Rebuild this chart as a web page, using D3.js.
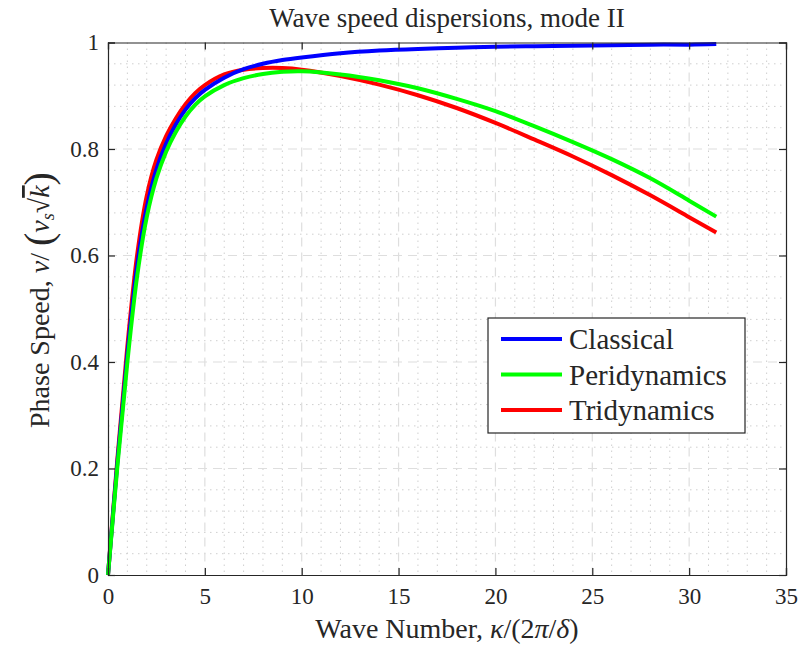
<!DOCTYPE html>
<meta charset="utf-8">
<style>
    body { margin: 0; background: #fff; }
    text { font-family: "Liberation Serif", "DejaVu Serif", serif; fill: #262626; }
    .tick text { font-size: 23px; }
    .grid-major line { stroke: #dedede; stroke-width: 1.2; stroke-dasharray: 9,6; }
    .grid-minor line { stroke: #cfcfcf; stroke-width: 1; stroke-dasharray: 1.5,4.5; }
</style>
<svg width="802" height="651"></svg>
<script src="https://d3js.org/d3.v7.min.js"></script>
<script>
    // wave number (kappa / (2 pi / delta))
    var waveNumber = [0, 0.5, 1, 1.5, 2, 2.5, 3, 3.5, 4, 4.5, 5, 6, 7, 8, 9, 10, 12, 14, 16, 18, 20, 22, 24, 26, 28, 30, 31.4];
    var classical = [0, 0.218, 0.415, 0.58, 0.69, 0.762, 0.81, 0.846, 0.874, 0.895, 0.911, 0.934, 0.950, 0.960, 0.967, 0.972,
        0.980, 0.985, 0.988, 0.990, 0.992, 0.993, 0.994, 0.995, 0.996, 0.996, 0.997];
    var peridynamics = [0, 0.21, 0.40, 0.56, 0.672, 0.745, 0.795, 0.832, 0.861, 0.883, 0.899, 0.920, 0.933, 0.941, 0.945, 0.946,
        0.940, 0.929, 0.914, 0.894, 0.871, 0.843, 0.813, 0.781, 0.745, 0.703, 0.673];
    var tridynamics = [0, 0.225, 0.43, 0.60, 0.712, 0.78, 0.824, 0.857, 0.884, 0.905, 0.920, 0.940, 0.949, 0.952, 0.952, 0.949,
        0.937, 0.921, 0.901, 0.877, 0.849, 0.818, 0.786, 0.751, 0.713, 0.672, 0.643];
    var seriesNames = ["Classical", "Peridynamics", "Tridynamics"];
    var seriesColors = ["#0000ff", "#00ff00", "#ff0000"];
    var xTicks = [0, 5, 10, 15, 20, 25, 30, 35];
    var yTicks = [0, 0.2, 0.4, 0.6, 0.8, 1];

    var svg = d3.select("svg"),
        pLeft = 108, pTop = 42.5, pRight = 786, pBottom = 575;

    var x = d3.scaleLinear().domain([0, 35]).range([pLeft, pRight]);
    var y = d3.scaleLinear().domain([0, 1]).range([pBottom, pTop]);

    // minor grid
    var gMinor = svg.append("g").attr("class", "grid-minor");
    gMinor.selectAll(".vx").data(d3.range(1, 35).filter(function(d) { return d % 5 !== 0; }))
        .enter().append("line")
        .attr("x1", function(d) { return x(d); }).attr("x2", function(d) { return x(d); })
        .attr("y1", pTop).attr("y2", pBottom);
    gMinor.selectAll(".hy").data(d3.range(1, 25).filter(function(d) { return d % 5 !== 0; }).map(function(d) { return d * 0.04; }))
        .enter().append("line")
        .attr("y1", function(d) { return y(d); }).attr("y2", function(d) { return y(d); })
        .attr("x1", pLeft).attr("x2", pRight);

    // major grid
    var gMajor = svg.append("g").attr("class", "grid-major");
    gMajor.selectAll(".vx").data(xTicks.slice(1, -1))
        .enter().append("line")
        .attr("x1", function(d) { return x(d); }).attr("x2", function(d) { return x(d); })
        .attr("y1", pTop).attr("y2", pBottom);
    gMajor.selectAll(".hy").data(yTicks.slice(1, -1))
        .enter().append("line")
        .attr("y1", function(d) { return y(d); }).attr("y2", function(d) { return y(d); })
        .attr("x1", pLeft).attr("x2", pRight);

    // lines (red under, green on top as in the original)
    var series = [classical, peridynamics, tridynamics];
    var line = d3.line()
        .x(function(d, i) { return x(waveNumber[i]); })
        .y(function(d) { return y(d); })
        .curve(d3.curveCatmullRom);
    [2, 0, 1].forEach(function(k) {
        svg.append("path")
            .attr("d", line(series[k]))
            .attr("fill", "none")
            .attr("stroke", seriesColors[k])
            .attr("stroke-width", 4);
    });

    // axes, MATLAB style ticks pointing inwards
    var fmt = function(d) { return d3.format("~g")(d); };
    svg.append("g").attr("transform", "translate(0," + pBottom + ")")
        .call(d3.axisBottom(x).tickValues(xTicks).tickSize(-7).tickPadding(13).tickFormat(fmt));
    svg.append("g").attr("transform", "translate(0," + pTop + ")")
        .call(d3.axisTop(x).tickValues(xTicks).tickSize(-7).tickFormat(""));
    svg.append("g").attr("transform", "translate(" + pLeft + ",0)")
        .call(d3.axisLeft(y).tickValues(yTicks).tickSize(-7).tickPadding(9).tickFormat(fmt));
    svg.append("g").attr("transform", "translate(" + pRight + ",0)")
        .call(d3.axisRight(y).tickValues(yTicks).tickSize(-7).tickFormat(""));
    svg.selectAll(".domain").attr("stroke", "#262626").attr("stroke-width", 1.2);
    svg.selectAll(".tick line").attr("stroke", "#262626").attr("stroke-width", 1.2);
    svg.selectAll(".tick text").attr("fill", "#262626").style("font-family", "Liberation Serif");

    // title and axis labels
    svg.append("text").attr("x", 447).attr("y", 27)
        .attr("text-anchor", "middle").style("font-size", "27px")
        .text("Wave speed dispersions, mode II");

    var xl = svg.append("text").attr("x", 447).attr("y", 638)
        .attr("text-anchor", "middle").style("font-size", "28px");
    xl.append("tspan").text("Wave Number, ");
    xl.append("tspan").style("font-style", "italic").text("κ");
    xl.append("tspan").text("/(2");
    xl.append("tspan").style("font-style", "italic").text("π");
    xl.append("tspan").text("/");
    xl.append("tspan").style("font-style", "italic").text("δ");
    xl.append("tspan").text(")");

    var yl = svg.append("text")
        .attr("transform", "translate(49,300) rotate(-90)")
        .attr("text-anchor", "middle").style("font-size", "28px");
    yl.append("tspan").text("Phase Speed, ");
    yl.append("tspan").style("font-style", "italic").text("v");
    yl.append("tspan").text("/ ");
    yl.append("tspan").style("font-size", "40px").style("font-weight", "lighter").attr("dy", 3).text("(");
    yl.append("tspan").style("font-style", "italic").attr("dy", -3).text("v");
    yl.append("tspan").style("font-style", "italic").style("font-size", "18px").attr("dy", 5).text("s");
    yl.append("tspan").attr("dy", -5).text("√");
    yl.append("tspan").style("font-style", "italic").style("text-decoration", "overline").text("k");
    yl.append("tspan").style("font-size", "40px").attr("dy", 3).text(")");

    // legend
    var lg = svg.append("g").attr("transform", "translate(488,318)");
    lg.append("rect").attr("width", 257).attr("height", 115)
        .attr("fill", "#fff").attr("stroke", "#262626").attr("stroke-width", 1.2);
    seriesNames.forEach(function(name, i) {
        var yy = 21 + i * 35.5;
        lg.append("line").attr("x1", 13).attr("x2", 74).attr("y1", yy).attr("y2", yy)
            .attr("stroke", seriesColors[i]).attr("stroke-width", 4);
        lg.append("text").attr("x", 81).attr("y", yy + 10).style("font-size", "29px").text(name);
    });
</script>
